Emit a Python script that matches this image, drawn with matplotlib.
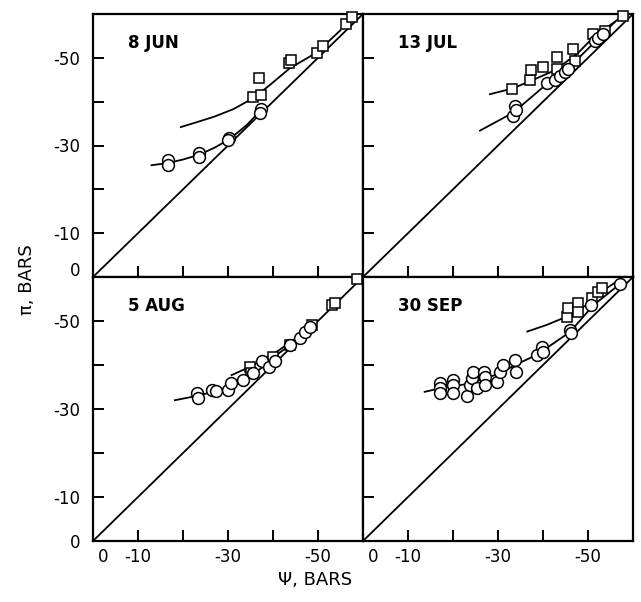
import numpy as np
import matplotlib.pyplot as plt
from matplotlib.transforms import ScaledTranslation

plt.rcParams.update({
    "font.family": "DejaVu Sans",
    "font.size": 12,
    "axes.linewidth": 1.6,
    "lines.linewidth": 1.2,
})

# osmotic potential (pi) vs water potential (psi), bars
LINE_1TO1 = [0, -60]

# 8 JUN
jun_circ_x = [-16.6, -16.6, -23.6, -23.6, -30.3, -30.0, -37.3, -37.0]
jun_circ_y = [-26.6, -25.5, -28.3, -27.3, -31.7, -31.3, -38.3, -37.5]
jun_sq_x = [-36.9, -35.6, -37.3, -43.6, -44.0, -49.7, -51.2, -56.2, -57.5]
jun_sq_y = [-45.5, -41.0, -41.6, -48.8, -49.5, -51.0, -52.6, -57.8, -59.4]
jun_up_x = [-19.5, -23.0, -27.0, -31.2, -35.6, -39.3, -43.7, -49.7, -55.0]
jun_up_y = [-34.2, -35.3, -36.6, -38.3, -40.8, -43.8, -47.6, -51.2, -56.3]
jun_lo_x = [-13.0, -16.6, -20.0, -23.6, -27.0, -30.3, -34.2, -37.3]
jun_lo_y = [-25.5, -26.0, -26.8, -27.9, -29.5, -31.4, -34.7, -38.0]

# 13 JUL
jul_circ_x = [-33.4, -33.8, -34.0, -40.8, -42.7, -43.8, -44.9, -45.6, -51.6, -52.3, -53.3]
jul_circ_y = [-36.8, -38.9, -38.0, -44.2, -45.0, -45.9, -46.8, -47.4, -53.9, -54.5, -55.4]
jul_sq_x = [-33.2, -37.0, -37.4, -40.1, -43.0, -43.0, -46.7, -47.1, -51.2, -53.8, -57.8]
jul_sq_y = [-43.0, -45.0, -47.3, -47.8, -50.2, -47.4, -52.0, -49.3, -55.4, -56.1, -59.6]
jul_up_x = [-28.2, -33.2, -37.4, -42.3, -47.5, -51.2, -57.8]
jul_up_y = [-41.7, -43.0, -44.8, -47.0, -50.8, -54.7, -59.6]
jul_lo_x = [-26.0, -33.4, -40.8, -45.6, -51.6, -56.0]
jul_lo_y = [-33.4, -37.5, -44.0, -47.6, -53.7, -58.2]

# 5 AUG
aug_circ_x = [-23.2, -23.4, -26.4, -27.3, -30.1, -30.6, -33.4, -35.6, -37.5, -39.0, -40.4,
              -43.8, -46.1, -47.1, -48.2]
aug_circ_y = [-33.6, -32.4, -34.3, -34.0, -34.3, -35.8, -36.6, -38.1, -40.8, -39.6, -40.8,
              -44.5, -46.1, -47.6, -48.7]
aug_sq_x = [-34.9, -35.1, -40.1, -43.8, -48.6, -53.1, -53.8, -58.6]
aug_sq_y = [-39.6, -38.1, -41.9, -44.5, -49.1, -53.6, -54.2, -59.5]
aug_up_x = [-30.8, -34.9, -40.4, -45.0]
aug_up_y = [-37.7, -39.6, -42.7, -46.0]
aug_lo_x = [-18.2, -23.2, -30.1, -33.4, -37.8, -40.8, -43.8, -48.0]
aug_lo_y = [-32.0, -33.0, -34.8, -36.2, -39.6, -42.3, -44.5, -48.6]

# 30 SEP
sep_circ_x = [-17.1, -17.1, -17.1, -20.1, -20.1, -20.1, -23.2, -23.8, -24.2, -24.5, -25.3,
              -26.9, -27.0, -27.0, -29.7, -30.4, -31.0, -33.8, -34.0, -38.6, -39.7, -40.0,
              -46.0, -46.2, -50.6, -57.1]
sep_circ_y = [-35.8, -34.7, -33.7, -36.6, -35.4, -33.7, -33.0, -35.5, -37.0, -38.5, -34.7,
              -38.5, -37.3, -35.5, -36.2, -38.5, -40.0, -41.1, -38.5, -42.3, -44.2, -43.0,
              -48.0, -47.2, -53.6, -58.4]
sep_sq_x = [-45.3, -45.6, -47.8, -47.8, -50.8, -52.3, -53.0]
sep_sq_y = [-51.0, -52.9, -54.0, -52.0, -55.2, -56.7, -57.4]
sep_up_x = [-36.5, -40.8, -45.3, -49.6, -53.1, -57.8]
sep_up_y = [-47.6, -49.1, -51.0, -53.6, -56.7, -60.0]
sep_lo_x = [-13.7, -17.1, -23.8, -30.4, -33.8, -38.6, -46.0, -51.2, -57.1]
sep_lo_y = [-33.9, -34.7, -35.8, -38.1, -40.0, -42.3, -47.5, -53.6, -58.4]

panels = [
    ("8 JUN", jun_circ_x, jun_circ_y, jun_sq_x, jun_sq_y, jun_up_x, jun_up_y, jun_lo_x, jun_lo_y),
    ("13 JUL", jul_circ_x, jul_circ_y, jul_sq_x, jul_sq_y, jul_up_x, jul_up_y, jul_lo_x, jul_lo_y),
    ("5 AUG", aug_circ_x, aug_circ_y, aug_sq_x, aug_sq_y, aug_up_x, aug_up_y, aug_lo_x, aug_lo_y),
    ("30 SEP", sep_circ_x, sep_circ_y, sep_sq_x, sep_sq_y, sep_up_x, sep_up_y, sep_lo_x, sep_lo_y),
]

tick_vals = [0, -10, -20, -30, -40, -50]
tick_labels = ["0", "-10", "", "-30", "", "-50"]

fig = plt.figure(figsize=(6.41, 6.02), dpi=100)
W, H = 641.0, 602.0
col_x = [93, 363]
row_y = [(14, 277), (277, 541)]

for i, (name, cx, cy, sx, sy, ux, uy, lx, ly) in enumerate(panels):
    r, c = divmod(i, 2)
    x0 = col_x[c]
    y_top, y_bot = row_y[r]
    ax = fig.add_axes([x0 / W, 1 - y_bot / H, 270 / W, (y_bot - y_top) / H])

    ax.plot(LINE_1TO1, LINE_1TO1, color="black", lw=1.3, zorder=2)
    ax.plot(ux, uy, color="black", lw=1.3, zorder=2)
    ax.plot(lx, ly, color="black", lw=1.3, zorder=2)
    ax.plot(sx, sy, ls="none", marker="s", ms=7, mfc="white", mec="black",
            mew=1.1, zorder=3, clip_on=False)
    ax.plot(cx, cy, ls="none", marker="o", ms=8.5, mfc="white", mec="black",
            mew=1.1, zorder=4, clip_on=False)

    ax.set_xlim(0, -60)
    ax.set_ylim(0, -60)
    ax.set_xticks(tick_vals)
    ax.set_yticks(tick_vals)
    ax.tick_params(direction="in", length=8, width=1.4, labelsize=12)
    ax.tick_params(axis="y", pad=9)
    ax.tick_params(axis="x", pad=5)

    if r == 1:
        ax.set_xticklabels(tick_labels)
        lab0 = ax.get_xticklabels()[0]
        lab0.set_transform(lab0.get_transform() + ScaledTranslation(10 / 100, 0, fig.dpi_scale_trans))
    else:
        ax.set_xticklabels([])
    if c == 0:
        ax.set_yticklabels(tick_labels)
        if r == 0:
            lab0 = ax.get_yticklabels()[0]
            lab0.set_transform(lab0.get_transform() + ScaledTranslation(0, 8 / 100, fig.dpi_scale_trans))
    else:
        ax.set_yticklabels([])

    ax.text(0.13, 0.89, name, transform=ax.transAxes, fontsize=12,
            fontweight="bold", ha="left", va="center")

fig.text(315 / W, 1 - 580 / H, "Ψ, BARS", ha="center", va="center", fontsize=13)
fig.text(27 / W, 1 - 280 / H, "π, BARS", ha="center", va="center", fontsize=13, rotation=90)

fig.savefig("out.png", dpi=100)
